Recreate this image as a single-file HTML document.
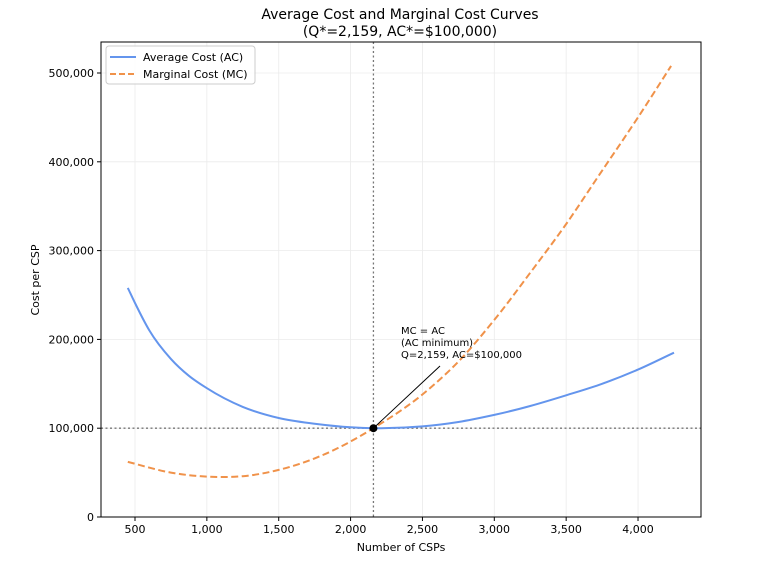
<!DOCTYPE html>
<html><head><meta charset="utf-8"><style>
body{margin:0;background:#fff;}
svg text{font-family:"DejaVu Sans","Liberation Sans",sans-serif;fill:#000;}
</style></head><body>
<svg id="chart" width="761" height="569">
<text x="400" y="19" font-size="14" text-anchor="middle">Average Cost and Marginal Cost Curves</text>
<text x="400" y="36" font-size="14" text-anchor="middle">(Q*=2,159, AC*=$100,000)</text>
<g id="grid"></g>
<g id="marks"></g>
<rect x="101" y="42" width="600" height="475" fill="none" stroke="#000" stroke-width="1"/>
<g id="axes"></g>
<text x="401" y="551" font-size="11" text-anchor="middle">Number of CSPs</text>
<text transform="translate(39,280) rotate(-90)" font-size="11" text-anchor="middle">Cost per CSP</text>
<g>
<rect x="106" y="46" width="149" height="38" rx="3" fill="#fff" stroke="#ccc" fill-opacity="0.85"/>
<line x1="110" y1="57" x2="136" y2="57" stroke="#6495ed" stroke-width="2"/>
<text x="143" y="61" font-size="11">Average Cost (AC)</text>
<line x1="110" y1="74" x2="136" y2="74" stroke="#f0924a" stroke-width="2" stroke-dasharray="6,3"/>
<text x="143" y="78" font-size="11">Marginal Cost (MC)</text>
</g>
</svg>
<script>
const xTicks=[500,1000,1500,2000,2500,3000,3500,4000];
const yTicks=[0,100000,200000,300000,400000,500000];
const qValues=[450,500,600,750,875,1000,1250,1500,1750,2000,2159,2500,2750,3000,3250,3500,3750,4000,4250];
const acValues=[258000,241000,210000,178000,159000,145000,124000,111500,105000,101000,100000,102000,107000,115000,125000,137000,150000,166000,185000];
const mcQ=[450,750,1000,1100,1250,1500,1750,2000,2159,2500,2750,3000,3250,3500,3750,4000,4230];
const mcValues=[62000,50000,45500,45000,46000,53000,66000,85000,100000,138000,175000,222000,275000,330000,390000,450000,508000];
const qStar=2159, acStar=100000;
const NS="http://www.w3.org/2000/svg";
const X=q=>135+(q-500)/500*71.86;
const Y=v=>517-v/100000*88.8;
function mk(t,a,p){const e=document.createElementNS(NS,t);for(const k in a)e.setAttribute(k,a[k]);p.appendChild(e);return e;}
const grid=document.getElementById('grid'),axes=document.getElementById('axes'),marks=document.getElementById('marks');
xTicks.forEach(t=>{
 const g=mk('line',{x1:X(t),x2:X(t),y1:42,y2:517,stroke:'#ebebeb','stroke-width':0.8},grid);
 
 
 const tk=mk('line',{x1:X(t),x2:X(t),y1:517,y2:521,stroke:'#000'},axes);
 
 
 const tx=mk('text',{x:X(t),y:533,'font-size':11,'text-anchor':'middle'},axes);
 tx.textContent=t.toLocaleString('en-US');
 
 
});
yTicks.forEach(t=>{
 const g=mk('line',{x1:101,x2:701,y1:Y(t),y2:Y(t),stroke:'#ebebeb','stroke-width':0.8},grid);
 
 
 const tk=mk('line',{x1:97,x2:101,y1:Y(t),y2:Y(t),stroke:'#000'},axes);
 
 
 const tx=mk('text',{x:94,y:Y(t)+4,'font-size':11,'text-anchor':'end'},axes);
 tx.textContent=t.toLocaleString('en-US');
 
 
});
const vl=mk('line',{x1:X(qStar),x2:X(qStar),y1:42,y2:517,stroke:'#777','stroke-dasharray':'2,2.5','stroke-width':1.3},marks);


const hl=mk('line',{x1:101,x2:701,y1:Y(acStar),y2:Y(acStar),stroke:'#777','stroke-dasharray':'2,2.5','stroke-width':1.3},marks);


function path(xs,ys){
 const P=xs.map((x,i)=>[X(x),Y(ys[i])]);
 const n=P.length,m=[];
 for(let i=0;i<n;i++){
  if(i===0){m.push((P[1][1]-P[0][1])/(P[1][0]-P[0][0]));continue;}
  if(i===n-1){m.push((P[i][1]-P[i-1][1])/(P[i][0]-P[i-1][0]));continue;}
  const h0=P[i][0]-P[i-1][0],h1=P[i+1][0]-P[i][0];
  const s0=(P[i][1]-P[i-1][1])/h0,s1=(P[i+1][1]-P[i][1])/h1;
  m.push((s0*h1+s1*h0)/(h0+h1));
 }
 let d='M'+P[0][0].toFixed(1)+','+P[0][1].toFixed(1);
 for(let i=0;i<n-1;i++){
  const h=(P[i+1][0]-P[i][0])/3;
  d+='C'+(P[i][0]+h).toFixed(1)+','+(P[i][1]+m[i]*h).toFixed(1)+' '+(P[i+1][0]-h).toFixed(1)+','+(P[i+1][1]-m[i+1]*h).toFixed(1)+' '+P[i+1][0].toFixed(1)+','+P[i+1][1].toFixed(1);
 }
 return d;
}
const ac=mk('path',{d:path(qValues,acValues),fill:'none',stroke:'#6495ed','stroke-width':2,'stroke-linejoin':'round'},marks);


const mc=mk('path',{d:path(mcQ,mcValues),fill:'none',stroke:'#f0924a','stroke-width':2,'stroke-dasharray':'7,3.5'},marks);


const ar=mk('line',{x1:440,y1:366,x2:X(qStar),y2:Y(acStar),stroke:'#000','stroke-width':1},marks);


const pt=mk('circle',{cx:X(qStar),cy:Y(acStar),r:4,fill:'#000'},marks);


['MC = AC','(AC minimum)','Q=2,159, AC=$100,000'].forEach((s,i)=>{
 const t=mk('text',{x:401,y:334+i*12,'font-size':10},marks);
 t.textContent=s;
 
 
});
</script>
</body></html>
